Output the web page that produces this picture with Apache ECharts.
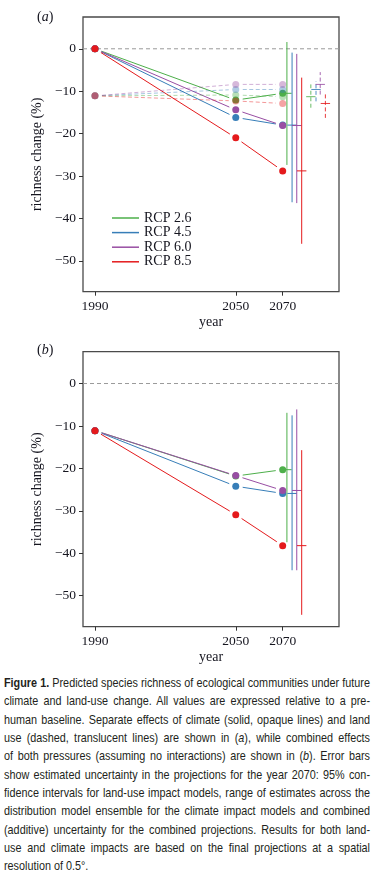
<!DOCTYPE html>
<html><head><meta charset="utf-8">
<script src="https://cdn.jsdelivr.net/npm/echarts@6/dist/echarts.min.js"></script>
<style>
html,body{margin:0;padding:0;background:#fff;width:380px;height:879px;overflow:hidden}
#chart{position:absolute;left:0;top:0;width:380px;height:670px}
#cap{position:absolute;left:4px;top:674px;width:366px;height:205px;overflow:visible}
#capInner{position:absolute;left:0;top:0;transform-origin:0 0;font-family:"Liberation Sans",Arial,sans-serif;font-size:13.2px;line-height:18.35px;color:#231f20}
#capInner div{white-space:nowrap;text-align:left}
#capInner.just div{text-align:justify;text-align-last:justify}
#capInner.just div.last{text-align-last:left}
</style></head>
<body>
<div id="chart"></div>
<div id="cap"><div id="capInner">
<div><span><b>Figure 1.</b> Predicted species richness of ecological communities under future</span></div>
<div><span>climate and land-use change. All values are expressed relative to a pre-</span></div>
<div><span>human baseline. Separate effects of climate (solid, opaque lines) and land</span></div>
<div><span>use (dashed, translucent lines) are shown in (<i>a</i>), while combined effects</span></div>
<div><span>of both pressures (assuming no interactions) are shown in (<i>b</i>). Error bars</span></div>
<div><span>show estimated uncertainty in the projections for the year 2070: 95% con-</span></div>
<div><span>fidence intervals for land-use impact models, range of estimates across the</span></div>
<div><span>distribution model ensemble for the climate impact models and combined</span></div>
<div><span>(additive) uncertainty for the combined projections. Results for both land-</span></div>
<div><span>use and climate impacts are based on the final projections at a spatial</span></div>
<div class="last"><span>resolution of 0.5°.</span></div>
</div></div>
<script>
// ---------- data ----------
const years = [1990, 2050, 2070];
const xTicks = [1990, 2050, 2070];
const yTicks = [0, -10, -20, -30, -40, -50];
const rcpNames = ['RCP 2.6', 'RCP 4.5', 'RCP 6.0', 'RCP 8.5'];

// panel (a): climate effects (solid)
const climate26 = [0, -12.1, -10.5];
const climate45 = [0, -16.2, -18.0];
const climate60 = [0, -14.4, -18.1];
const climate85 = [0, -21.0, -28.8];
// panel (a): land-use effects (dashed, translucent)
const landuse26 = [-11.1, -10.9, -11.3];
const landuse45 = [-11.1, -9.6, -9.6];
const landuse60 = [-11.1, -8.4, -8.4];
const landuse85 = [-11.1, -12.3, -12.9];
// panel (b): combined
const combined26 = [-11.1, -21.8, -20.3];
const combined45 = [-11.1, -24.2, -25.9];
const combined60 = [-11.1, -21.7, -25.2];
const combined85 = [-11.1, -30.9, -38.2];

// error bars for 2070 (positions offset to the right of 2070)
const climateErrX = [2071.8, 2074.0, 2076.0, 2078.1];
const climateErrLow = [-27.4, -36.2, -36.4, -46.0];
const climateErrHigh = [1.6, -0.9, -1.2, -6.8];
const landuseErrX = [2082.0, 2084.2, 2086.0, 2088.2];
const landuseErrLow = [-13.9, -12.4, -10.8, -16.3];
const landuseErrHigh = [-8.4, -7.7, -5.5, -10.2];
const combinedErrX = [2071.8, 2074.0, 2076.0, 2078.1];
const combinedErrLow = [-37.4, -44.0, -44.0, -54.5];
const combinedErrHigh = [-6.9, -7.5, -6.1, -15.7];

// ---------- styling ----------
const colors = ['#4daf4a', '#377eb8', '#984ea3', '#e41a1c'];
const SERIF = '"Liberation Serif","Times New Roman",serif';
const TXT = '#15151f';
const GAP = 7;
function fade(hex, a) {
  const n = parseInt(hex.slice(1), 16);
  return 'rgba(' + (n >> 16) + ',' + ((n >> 8) & 255) + ',' + (n & 255) + ',' + a + ')';
}

const climate = [climate26, climate45, climate60, climate85];
const landuse = [landuse26, landuse45, landuse60, landuse85];
const combined = [combined26, combined45, combined60, combined85];

function segSeries(name, vals, color, axis, dashed) {
  const data = [];
  for (let k = 0; k < years.length - 1; k++) data.push([years[k], vals[k], years[k + 1], vals[k + 1]]);
  const s = {
    type: 'custom', xAxisIndex: axis, yAxisIndex: axis, silent: true,
    itemStyle: { color: color }, data: data,
    renderItem: function (params, api) {
      const p1 = api.coord([api.value(0), api.value(1)]);
      const p2 = api.coord([api.value(2), api.value(3)]);
      const dx = p2[0] - p1[0], dy = p2[1] - p1[1];
      const len = Math.hypot(dx, dy);
      const ux = dx / len, uy = dy / len;
      return {
        type: 'line',
        shape: { x1: p1[0] + ux * GAP, y1: p1[1] + uy * GAP, x2: p2[0] - ux * GAP, y2: p2[1] - uy * GAP },
        style: { stroke: color, lineWidth: 1, lineDash: dashed ? [4, 2.5] : null }
      };
    }
  };
  if (name) s.name = name;
  return s;
}

function errSeries(xs, lows, means, highs, axis, colorFn, dashed) {
  const data = xs.map(function (x, i) { return [x, lows[i], means[i], highs[i], i]; });
  return {
    type: 'custom', xAxisIndex: axis, yAxisIndex: axis, silent: true, data: data,
    renderItem: function (params, api) {
      const x = api.value(0);
      const lo = api.coord([x, api.value(1)]);
      const mid = api.coord([x, api.value(2)]);
      const hi = api.coord([x, api.value(3)]);
      const c = colorFn(api.value(4));
      return {
        type: 'group', children: [
          { type: 'line', shape: { x1: lo[0], y1: lo[1], x2: hi[0], y2: hi[1] }, style: { stroke: c, lineWidth: 1, lineDash: dashed ? [4, 2.5] : null } },
          { type: 'line', shape: { x1: mid[0] - 4.7, y1: mid[1], x2: mid[0] + 4.7, y2: mid[1] }, style: { stroke: c, lineWidth: 1 } }
        ]
      };
    }
  };
}

function pointSeries(vals, color, axis) {
  return {
    type: 'scatter', xAxisIndex: axis, yAxisIndex: axis, silent: true, symbolSize: 7,
    itemStyle: { color: color, opacity: 1 },
    data: years.map(function (y, k) { return [y, vals[k]]; })
  };
}

function zeroLine(axis) {
  return {
    type: 'custom', xAxisIndex: axis, yAxisIndex: axis, silent: true, data: [[1990, 0]],
    renderItem: function (params, api) {
      const cs = params.coordSys;
      const y = api.coord([api.value(0), api.value(1)])[1];
      return { type: 'line', shape: { x1: cs.x, y1: y, x2: cs.x + cs.width, y2: y }, style: { stroke: '#9a9a9a', lineWidth: 1, lineDash: [4, 3] } };
    }
  };
}

function xAxis(g) {
  return {
    type: 'value', gridIndex: g, min: 1984.9, max: 2094,
    name: 'year', nameLocation: 'middle', nameGap: 24,
    nameTextStyle: { fontFamily: SERIF, fontSize: 14, color: TXT },
    axisLine: { show: false, onZero: false }, splitLine: { show: false },
    axisTick: { show: true, length: 4, lineStyle: { color: '#333' }, customValues: xTicks },
    axisLabel: { fontFamily: SERIF, fontSize: 13.5, color: TXT, margin: 8, customValues: xTicks, formatter: function (v) { return String(v); } }
  };
}
function yAxis(g) {
  return {
    type: 'value', gridIndex: g, min: -57.3, max: 7.5,
    name: 'richness change (%)', nameLocation: 'middle', nameGap: 33,
    nameTextStyle: { fontFamily: SERIF, fontSize: 14, color: TXT },
    axisLine: { show: false, onZero: false }, splitLine: { show: false },
    axisTick: { show: true, length: 4, lineStyle: { color: '#333' }, customValues: yTicks },
    axisLabel: { fontFamily: SERIF, fontSize: 13.5, color: TXT, margin: 7, customValues: yTicks,
      formatter: function (v) { return v < 0 ? '\u2212' + Math.abs(v) : String(v); } }
  };
}

const series = [];
// panel (a)
series.push(zeroLine(0));
for (let i = 0; i < 4; i++) series.push(segSeries(rcpNames[i], climate[i], colors[i], 0, false));
for (let i = 0; i < 4; i++) series.push(segSeries(null, landuse[i], fade(colors[i], 0.45), 0, true));
series.push(errSeries(climateErrX, climateErrLow, climate.map(function (v) { return v[2]; }), climateErrHigh, 0, function (i) { return colors[i]; }, false));
series.push(errSeries(landuseErrX, landuseErrLow, landuse.map(function (v) { return v[2]; }), landuseErrHigh, 0, function (i) { return fade(colors[i], 0.85); }, true));
for (let i = 0; i < 4; i++) series.push(pointSeries(climate[i], colors[i], 0));
for (let i = 0; i < 4; i++) series.push(pointSeries(landuse[i], fade(colors[i], 0.4), 0));
// panel (b)
series.push(zeroLine(1));
for (let i = 0; i < 4; i++) series.push(segSeries(null, combined[i], colors[i], 1, false));
series.push(errSeries(combinedErrX, combinedErrLow, combined.map(function (v) { return v[2]; }), combinedErrHigh, 1, function (i) { return colors[i]; }, false));
for (let i = 0; i < 4; i++) series.push(pointSeries(combined[i], colors[i], 1));

const titleRich = {
  n: { fontFamily: SERIF, fontSize: 14, fontWeight: 'normal', color: TXT },
  i: { fontFamily: SERIF, fontSize: 14, fontStyle: 'italic', fontWeight: 'normal', color: TXT }
};

const option = {
  animation: false,
  backgroundColor: '#fff',
  title: [
    { left: 32, top: 5, text: '{n|(}{i|a}{n|)}', textStyle: { fontWeight: 'normal', rich: titleRich } },
    { left: 32, top: 338, text: '{n|(}{i|b}{n|)}', textStyle: { fontWeight: 'normal', rich: titleRich } }
  ],
  legend: {
    left: 107, top: 206, orient: 'vertical', itemWidth: 27, itemHeight: 1.5, itemGap: 0.6,
    icon: 'rect', selectedMode: false, data: rcpNames,
    textStyle: { fontFamily: SERIF, fontSize: 14, color: TXT, lineHeight: 14 }
  },
  grid: [
    { left: 83, top: 17, width: 256, height: 274.7, show: true, borderColor: '#4a4a4a', borderWidth: 1.3, backgroundColor: 'transparent' },
    { left: 83, top: 351.7, width: 256, height: 275, show: true, borderColor: '#4a4a4a', borderWidth: 1.3, backgroundColor: 'transparent' }
  ],
  xAxis: [xAxis(0), xAxis(1)],
  yAxis: [yAxis(0), yAxis(1)],
  series: series
};

const chart = echarts.init(document.getElementById('chart'));
chart.setOption(option);

// fit caption: uniform horizontal condensation, justified lines
(function () {
  const inner = document.getElementById('capInner');
  let maxW = 0;
  inner.querySelectorAll('span').forEach(function (s) { maxW = Math.max(maxW, s.getBoundingClientRect().width); });
  maxW = Math.ceil(maxW) + 1;
  inner.style.width = maxW + 'px';
  inner.classList.add('just');
  inner.style.transform = 'scaleX(' + (366 / maxW) + ')';
})();
</script>
</body></html>
